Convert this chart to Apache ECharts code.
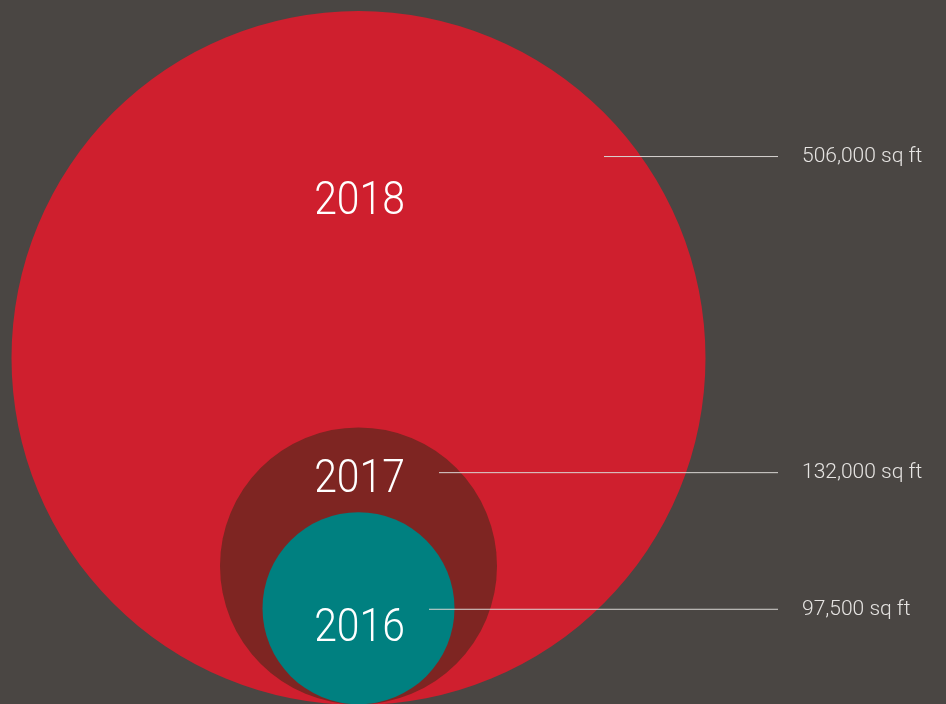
<!DOCTYPE html>
<html>
<head>
<meta charset="utf-8">
<script src="https://cdn.jsdelivr.net/npm/echarts@6/dist/echarts.min.js"></script>
<style>
html,body{margin:0;padding:0;background:#4a4643;}
#chart{width:946px;height:704px;}
</style>
</head>
<body>
<div id="chart"></div>
<script>
// ---- data ----
const years = ['2018', '2017', '2016'];
const areas = [506000, 132000, 97500];          // square feet
const circleRadius = [347, 138.5, 96];          // drawn circle radius (chart units)

// ---- layout / style (not data) ----
const colors = ['#cf1f2e', '#7e2522', '#008080'];
const yearLabelY = [503, 224, 75];     // chart units above baseline
const leaderY = [549, 232, 95];
const leaderStartX = [245.5, 80.5, 70.5];
const leaderEndX = 419.5;
const valueLabelX = 443.5;

const chart = echarts.init(document.getElementById('chart'));
const seriesData = years.map((y, i) => [circleRadius[i], areas[i], i]);

chart.setOption({
  backgroundColor: '#4a4643',
  animation: false,
  grid: { left: 0, top: 0, width: 946, height: 706 },
  xAxis: { type: 'value', min: -358.5, max: 587.5, show: false },
  yAxis: { type: 'value', min: 0, max: 706, show: false },
  series: [{
    type: 'custom',
    clip: false,
    data: seriesData,
    renderItem: function (params, api) {
      const r = api.value(0);
      const area = api.value(1);
      const i = api.value(2);
      const c = api.coord([0, r]);
      const pr = api.size([r, r])[0];
      const yl = api.coord([0, yearLabelY[i]]);
      const l0 = api.coord([leaderStartX[i], leaderY[i]]);
      const l1 = api.coord([leaderEndX, leaderY[i]]);
      const tx = api.coord([valueLabelX, leaderY[i]]);
      return {
        type: 'group',
        children: [
          { type: 'circle', shape: { cx: c[0], cy: c[1], r: pr }, style: { fill: colors[i] } },
          { type: 'text', x: yl[0] + 1, y: yl[1], scaleX: 0.87, style: {
              text: years[i], fill: '#ffffff', font: '300 47px Roboto, sans-serif',
              align: 'center', verticalAlign: 'middle' } },
          { type: 'line', shape: { x1: l0[0], y1: l0[1], x2: l1[0], y2: l1[1] },
            style: { stroke: '#d9d6d3', lineWidth: 1 } },
          { type: 'text', x: tx[0], y: tx[1], style: {
              text: area.toLocaleString('en-US') + ' sq ft', fill: '#e6e4e2',
              font: '300 21px Roboto, sans-serif',
              align: 'left', verticalAlign: 'middle' } }
        ]
      };
    }
  }]
});
</script>
</body>
</html>
